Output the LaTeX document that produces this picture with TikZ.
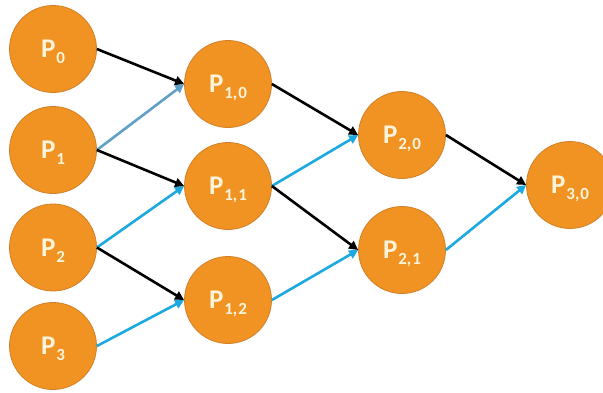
\documentclass[tikz,border=0pt]{standalone}
\usepackage{fontspec}
\setmainfont{Carlito}
\usetikzlibrary{arrows.meta}
\definecolor{nodeorange}{RGB}{240,147,35}
\definecolor{nodeedge}{RGB}{210,128,40}
\definecolor{labelwhite}{RGB}{255,244,218}
\definecolor{linkblue}{RGB}{28,168,224}
\definecolor{linksteel}{RGB}{95,160,198}
\tikzset{
  pnode/.style={circle, minimum size=87pt, inner sep=0pt, fill=nodeorange,
    draw=nodeedge, line width=0.8pt, text=labelwhite,
    text height=17pt, text depth=0pt, font=\fontsize{27}{27}\selectfont\bfseries},
  link/.style={line width=2.6pt, -{Triangle[length=9pt,width=9pt]}},
  blk/.style={link, draw=black},
  blu/.style={link, draw=linkblue},
  stl/.style={link, draw=linksteel}
}
\newcommand{\plab}[1]{P\kern1pt\raisebox{-6pt}{\fontsize{17}{17}\selectfont #1}}
\begin{document}
\begin{tikzpicture}[x=1pt,y=-1pt]
\useasboundingbox (0,0) rectangle (603,392);
\fill[white] (0,0) rectangle (603,392);
\node[pnode] (p0) at (53,49) {\plab{0}};
\node[pnode] (p1) at (53,150) {\plab{1}};
\node[pnode] (p2) at (53,247.5) {\plab{2}};
\node[pnode] (p3) at (53,346) {\plab{3}};
\node[pnode] (p10) at (228,84) {\plab{1,\kern1pt0}};
\node[pnode] (p11) at (228,186) {\plab{1,\kern1pt1}};
\node[pnode] (p12) at (228,300) {\plab{1,\kern1pt2}};
\node[pnode] (p20) at (402,135) {\plab{2,\kern1pt0}};
\node[pnode] (p21) at (402,250) {\plab{2,\kern1pt1}};
\node[pnode] (p30) at (570,185) {\plab{3,\kern1pt0}};
\draw[stl] (p1.east) -- (p10.west);
\draw[blu] (p2.east) -- (p11.west);
\draw[blu] (p3.east) -- (p12.west);
\draw[blu] (p11.east) -- (p20.west);
\draw[blu] (p12.east) -- (p21.west);
\draw[blu] (p21.east) -- (p30.west);
\draw[blk] (p0.east) -- (p10.west);
\draw[blk] (p1.east) -- (p11.west);
\draw[blk] (p2.east) -- (p12.west);
\draw[blk] (p10.east) -- (p20.west);
\draw[blk] (p11.east) -- (p21.west);
\draw[blk] (p20.east) -- (p30.west);
\end{tikzpicture}
\end{document}
